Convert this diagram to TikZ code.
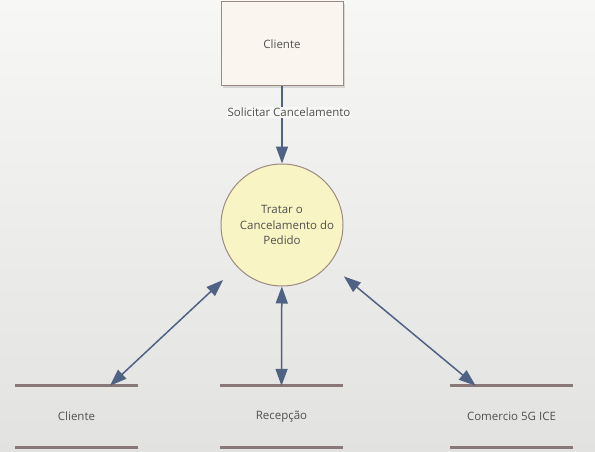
\documentclass[tikz,border=0pt]{standalone}
\usepackage{fontspec}
\setmainfont{Open Sans}
\usetikzlibrary{arrows.meta,shadows,calc}

\definecolor{bgtop}{HTML}{F7F7F5}
\definecolor{bgbot}{HTML}{E2E2E0}
\definecolor{boxfill}{HTML}{FAF6EF}
\definecolor{boxline}{HTML}{9C8A80}
\definecolor{procfill}{HTML}{F9F4C4}
\definecolor{flowcol}{HTML}{4F6283}
\definecolor{storecol}{HTML}{8A7878}
\definecolor{txt}{HTML}{505050}

\tikzset{
  entity/.style={draw=boxline, fill=boxfill, line width=1pt, minimum width=122pt,
    minimum height=84pt,
    drop shadow={shadow xshift=2pt, shadow yshift=-2pt, opacity=0.25}},
  process/.style={circle, draw=boxline, fill=procfill, line width=1pt,
    minimum size=122pt, align=center},
  store/.style={minimum width=123pt, minimum height=61pt},
  storeline/.style={draw=storecol, line width=3pt},
  flow/.style={draw=flowcol, line width=1.5pt, -{Triangle[width=12pt,length=17pt]}},
  dflow/.style={flow, {Triangle[width=12pt,length=17pt]}-{Triangle[width=12pt,length=17pt]}},
}

\begin{document}
\begin{tikzpicture}[x=1pt, y=-1pt, text=txt, font=\fontsize{11.5}{15.5}\selectfont]
    % background
    \fill[top color=bgtop, bottom color=bgbot] (0,0) rectangle (595,452);
    \useasboundingbox (0,0) rectangle (595,452);

    % external entity and process
    \node[entity] (cli) at (282,44) {Cliente};
    \node[process] (proc) at (282,225) {Tratar o\\\hspace*{10pt}Cancelamento do\\Pedido};

    % data stores with their top and bottom lines
    \foreach \i/\x/\lbl in {1/76.5/Cliente, 2/281.5/Recepção, 3/511.5/Comercio 5G ICE} {
        \node[store] (s\i) at (\x,416.5) {\lbl};
        \draw[storeline] (s\i.north west) -- (s\i.north east);
        \draw[storeline] (s\i.south west) -- (s\i.south east);
    }

    % where the flows meet the stores
    \coordinate (c1) at ($(s1.north west)!0.77!(s1.north east)$);
    \coordinate (c2) at ($(s2.north west)!0.5!(s2.north east)$);
    \coordinate (c3) at ($(s3.north west)!0.21!(s3.north east)$);

    % flows
    \draw[flow] (cli) -- node[pos=0.34, fill=bgtop, xshift=7pt, inner sep=1pt] {Solicitar Cancelamento} (proc);
    \draw[dflow, shorten <=19pt] (proc) -- (c1);
    \draw[dflow] (proc) -- (c2);
    \draw[dflow, shorten <=19pt] (proc) -- (c3);
\end{tikzpicture}
\end{document}
